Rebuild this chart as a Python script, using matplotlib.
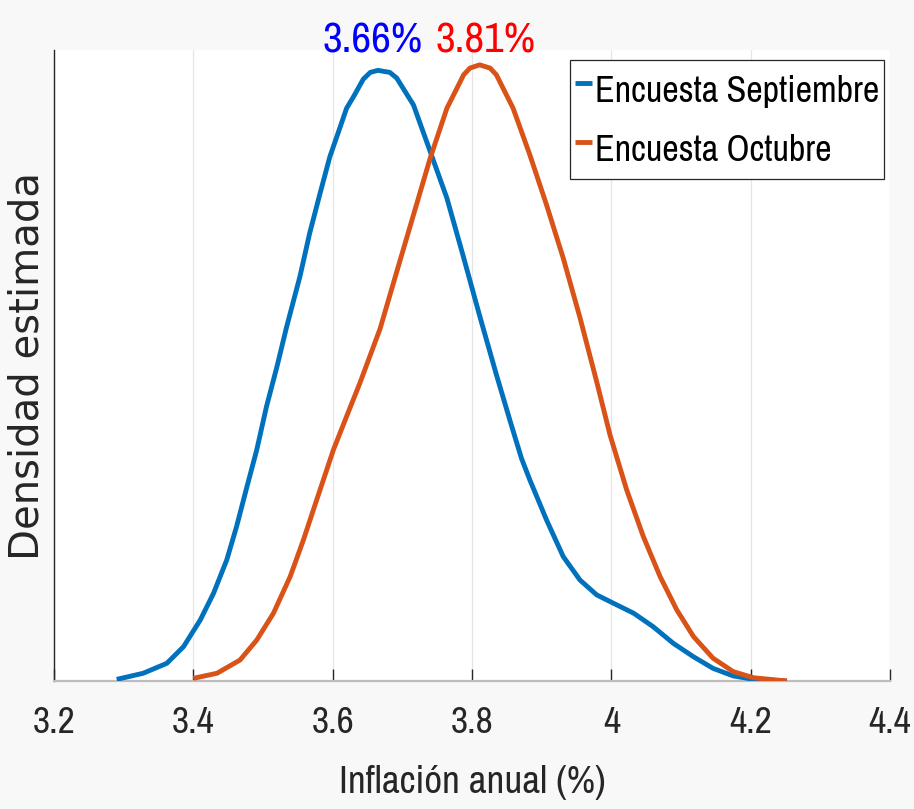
import matplotlib
matplotlib.use("Agg")
import matplotlib.pyplot as plt
from matplotlib.font_manager import FontProperties

# estimated densities (kernel density curves)
sep_x = [3.290, 3.328, 3.362, 3.386, 3.410, 3.429, 3.448, 3.462, 3.477, 3.491,
         3.505, 3.520, 3.534, 3.553, 3.567, 3.582, 3.596, 3.611, 3.620, 3.630,
         3.644, 3.654, 3.665, 3.682, 3.692, 3.716, 3.740, 3.764, 3.788, 3.811,
         3.835, 3.855, 3.871, 3.883, 3.907, 3.931, 3.955, 3.979, 4.003, 4.032,
         4.060, 4.089, 4.118, 4.146, 4.175, 4.204, 4.252]
sep_y = [0.008, 0.038, 0.087, 0.169, 0.300, 0.431, 0.595, 0.758, 0.955, 1.135,
         1.348, 1.544, 1.741, 1.987, 2.200, 2.397, 2.576, 2.724, 2.814, 2.871,
         2.957, 2.990, 3.000, 2.990, 2.962, 2.830, 2.601, 2.372, 2.080, 1.794,
         1.505, 1.274, 1.094, 0.988, 0.791, 0.611, 0.496, 0.423, 0.382, 0.333,
         0.267, 0.185, 0.119, 0.062, 0.025, 0.008, 0.0]

oct_x = [3.400, 3.434, 3.467, 3.491, 3.515, 3.539, 3.558, 3.577, 3.601, 3.620,
         3.639, 3.668, 3.692, 3.716, 3.740, 3.764, 3.788, 3.797, 3.811, 3.826,
         3.835, 3.859, 3.883, 3.907, 3.931, 3.955, 3.979, 3.998, 4.022, 4.046,
         4.070, 4.094, 4.118, 4.146, 4.175, 4.204, 4.252]
oct_y = [0.013, 0.038, 0.103, 0.201, 0.333, 0.513, 0.693, 0.889, 1.135, 1.300,
         1.463, 1.730, 2.011, 2.290, 2.569, 2.814, 2.978, 3.011, 3.027, 3.011,
         2.978, 2.814, 2.585, 2.339, 2.077, 1.785, 1.470, 1.210, 0.939, 0.709,
         0.513, 0.349, 0.218, 0.112, 0.046, 0.016, 0.0]

series_names = ['Encuesta Septiembre', 'Encuesta Octubre']
peak_labels = ['3.66%', '3.81%']
peak_label_x = [3.657, 3.82]
xticks = [3.2, 3.4, 3.6, 3.8, 4.0, 4.2, 4.4]
xtick_labels = ['3.2', '3.4', '3.6', '3.8', '4', '4.2', '4.4']

narrow = ['Archivo Narrow', 'DejaVu Sans']

fig = plt.figure(figsize=(9.14, 8.09), dpi=100, facecolor='#f8f8f8')
ax = fig.add_axes([54/914, 128/809, 836/914, 631/809])
ax.set_facecolor('white')

ax.plot(sep_x, sep_y, color='#0072BD', lw=3.5, solid_capstyle='butt',
        solid_joinstyle='round', label=series_names[0], zorder=3)
ax.plot(oct_x, oct_y, color='#D95319', lw=3.5, solid_capstyle='butt',
        solid_joinstyle='round', label=series_names[1], zorder=3)

ax.set_xlim(3.2, 4.4)
ax.set_ylim(0, 3.1)
ax.set_xticks(xticks)
ax.set_xticklabels(xtick_labels)
ax.set_yticks([])
ax.grid(axis='x', color='#e6e6e6', lw=0.9)
ax.set_axisbelow(True)

ax.tick_params(axis='x', direction='in', length=9, width=1, color='#262626',
               pad=18, labelcolor='#262626')
for lab in ax.get_xticklabels():
    lab.set_family(narrow)
    lab.set_stretch('condensed')
    lab.set_fontsize(27)

for side in ['top', 'right']:
    ax.spines[side].set_visible(False)
ax.spines['left'].set_color('#262626')
ax.spines['left'].set_linewidth(1)
ax.spines['bottom'].set_color('#bdbdbd')
ax.spines['bottom'].set_linewidth(1.6)

ax.set_xlabel('Inflación anual (%)', fontsize=28, color='#262626',
              family=narrow, stretch='condensed')
ax.xaxis.label.set_va('center')
ax.xaxis.set_label_coords(0.5, (681 - 782) / 631)

ax.set_ylabel('Densidad estimada', fontsize=29, color='#262626', family='DejaVu Sans')
ax.yaxis.label.set_va('center')
ax.yaxis.set_label_coords((28 - 54) / 836, 0.5)

for txt, xpos, col in zip(peak_labels, peak_label_x, ['#0000ff', '#ff0000']):
    ax.text(xpos, (681 - 41) / 203.5, txt, color=col, fontsize=31, ha='center',
            va='center', family=narrow, stretch='condensed', clip_on=False)

leg = ax.legend(loc='upper right', bbox_to_anchor=(0.9928, 0.984), borderaxespad=0,
                handlelength=0.47, handleheight=1.8, handletextpad=0.1,
                labelspacing=0.22, borderpad=0.12,
                fancybox=False, framealpha=1, edgecolor='#262626',
                prop=FontProperties(family=narrow, stretch='condensed', size=26))
leg.get_frame().set_linewidth(0.9)

fig.savefig("out.png", dpi=100, facecolor=fig.get_facecolor())
